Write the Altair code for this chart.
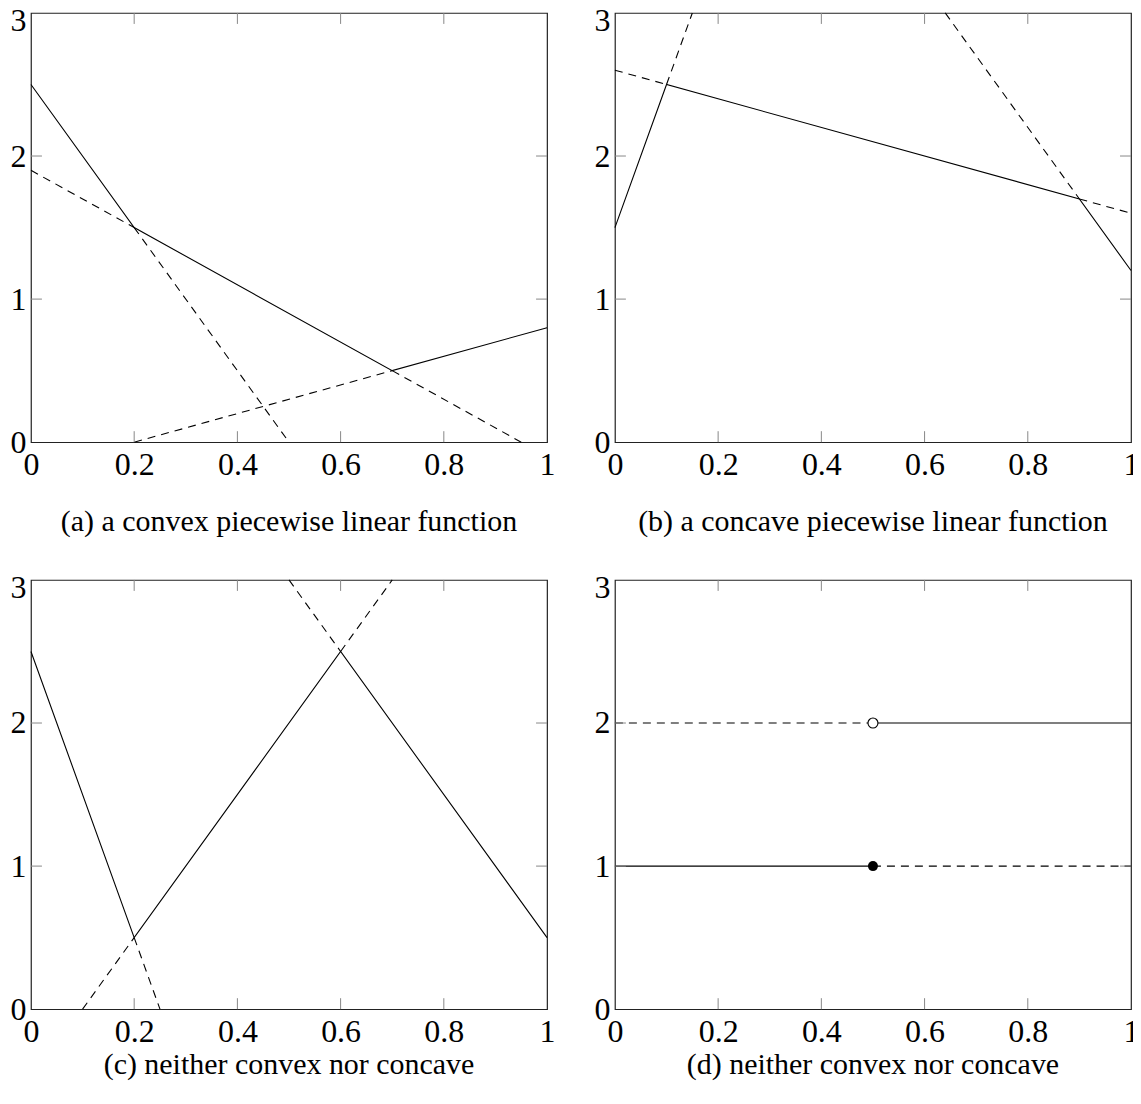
import altair as alt
import pandas as pd

# ---------------- data ----------------
x_tick_values = [0, 0.2, 0.4, 0.6, 0.8, 1]
y_tick_values = [0, 1, 2, 3]
inner_x_ticks = [0.2, 0.4, 0.6, 0.8]
inner_y_ticks = [1, 2]

captions = [
    "(a) a convex piecewise linear function",
    "(b) a concave piecewise linear function",
    "(c) neither convex nor concave",
    "(d) neither convex nor concave",
]

# (a) convex
a_solid_x = [0, 0.2, 0.7, 1]
a_solid_y = [2.5, 1.5, 0.5, 0.8]
a_dash_x1 = [0.0, 0.2, 0.2, 0.7]
a_dash_y1 = [1.9, 1.5, 0.0, 0.5]
a_dash_x2 = [0.2, 0.5, 0.7, 0.95]
a_dash_y2 = [1.5, 0.0, 0.5, 0.0]

# (b) concave
b_solid_x = [0, 0.1, 0.9, 1]
b_solid_y = [1.5, 2.5, 1.7, 1.2]
b_dash_x1 = [0.1, 0.0, 0.9, 0.64]
b_dash_y1 = [2.5, 2.6, 1.7, 3.0]
b_dash_x2 = [0.15, 0.1, 1.0, 0.9]
b_dash_y2 = [3.0, 2.5, 1.6, 1.7]

# (c) neither
c_solid_x = [0, 0.2, 0.6, 1]
c_solid_y = [2.5, 0.5, 2.5, 0.5]
c_dash_x1 = [0.2, 0.1, 0.6, 0.5]
c_dash_y1 = [0.5, 0.0, 2.5, 3.0]
c_dash_x2 = [0.25, 0.2, 0.7, 0.6]
c_dash_y2 = [0.0, 0.5, 3.0, 2.5]

# (d) neither (step functions)
d_solid_x1 = [0.0, 0.5]
d_solid_y1 = [1, 2]
d_solid_x2 = [0.5, 1.0]
d_solid_y2 = [1, 2]
d_dash_x1 = [0.0, 0.5]
d_dash_y1 = [2, 1]
d_dash_x2 = [0.5, 1.0]
d_dash_y2 = [2, 1]
d_closed_x = [0.5]
d_closed_y = [1]
d_open_x = [0.5]
d_open_y = [2]

# ---------------- styling ----------------
FONT = "Liberation Serif"
FS = 32
CAP_FS = 30
W, H = 517, 430
TICK = 11
DASH = [8, 6]

xs = alt.Scale(domain=[0, 1], nice=False, zero=False)
ys = alt.Scale(domain=[0, 3], nice=False, zero=False)

x_axis = alt.Axis(values=x_tick_values, format="~g", tickSize=0, domain=False,
                  grid=False, labelPadding=7, title=None, labelFlush=False,
                  labelFont=FONT, labelFontSize=FS, labelColor="black")
y_axis = alt.Axis(values=y_tick_values, format="~g", tickSize=0, domain=False,
                  grid=False, labelPadding=5, title=None, labelFlush=False,
                  labelFont=FONT, labelFontSize=FS, labelColor="black",
                  labelOffset={"condition": {"test": "datum.value == 3", "value": 8},
                               "value": 0})


def X(f):
    return alt.X(f, scale=xs, axis=x_axis)


def Y(f):
    return alt.Y(f, scale=ys, axis=y_axis)


def seg_df(x1, y1, x2, y2):
    return pd.DataFrame({"x": x1, "y": y1, "x2": x2, "y2": y2})


def tick_layers():
    tx = pd.DataFrame({"t": inner_x_ticks})
    ty = pd.DataFrame({"t": inner_y_ticks})
    rule = alt.Chart(tx).mark_rule(color="#888", strokeWidth=1)
    bottom = rule.encode(x=X("t:Q"), y=alt.value(H), y2=alt.value(H - TICK))
    top = rule.encode(x=X("t:Q"), y=alt.value(0), y2=alt.value(TICK))
    rule_y = alt.Chart(ty).mark_rule(color="#888", strokeWidth=1)
    left = rule_y.encode(y=Y("t:Q"), x=alt.value(0), x2=alt.value(TICK))
    right = rule_y.encode(y=Y("t:Q"), x=alt.value(W), x2=alt.value(W - TICK))
    return [bottom, top, left, right]


def seg_layer(df, dashed):
    kw = dict(color="black", strokeWidth=1.1)
    if dashed:
        kw["strokeDash"] = DASH
    return alt.Chart(df).mark_rule(**kw).encode(
        x=X("x:Q"), y=Y("y:Q"), x2="x2:Q", y2="y2:Q",
    )


def line_layer(xv, yv):
    df = pd.DataFrame({"x": xv, "y": yv, "o": list(range(len(xv)))})
    return alt.Chart(df).mark_line(color="black", strokeWidth=1.1).encode(
        x=X("x:Q"), y=Y("y:Q"), order="o:Q",
    )


def panel(layers, caption, offset):
    return alt.layer(*layers, *tick_layers()).properties(
        width=W, height=H,
        title=alt.TitleParams(text=caption, orient="bottom", offset=offset,
                              font=FONT, fontSize=CAP_FS, fontWeight="normal",
                              anchor="middle", color="black"),
    )


pa = panel([line_layer(a_solid_x, a_solid_y),
            seg_layer(seg_df(a_dash_x1, a_dash_y1, a_dash_x2, a_dash_y2), True)],
           captions[0], 27)
pb = panel([line_layer(b_solid_x, b_solid_y),
            seg_layer(seg_df(b_dash_x1, b_dash_y1, b_dash_x2, b_dash_y2), True)],
           captions[1], 27)
pc = panel([line_layer(c_solid_x, c_solid_y),
            seg_layer(seg_df(c_dash_x1, c_dash_y1, c_dash_x2, c_dash_y2), True)],
           captions[2], 3)

closed_pt = alt.Chart(pd.DataFrame({"x": d_closed_x, "y": d_closed_y})).mark_point(
    shape="circle", filled=True, color="black", size=100, opacity=1).encode(
    x=X("x:Q"), y=Y("y:Q"))
open_pt = alt.Chart(pd.DataFrame({"x": d_open_x, "y": d_open_y})).mark_point(
    shape="circle", filled=True, fill="white", stroke="black", strokeWidth=1.1,
    size=100, opacity=1).encode(
    x=X("x:Q"), y=Y("y:Q"))

pd_ = panel([seg_layer(seg_df(d_solid_x1, d_solid_y1, d_solid_x2, d_solid_y2), False),
             seg_layer(seg_df(d_dash_x1, d_dash_y1, d_dash_x2, d_dash_y2), True),
             closed_pt, open_pt], captions[3], 3)

chart = alt.concat(pa, pb, pc, pd_, columns=2,
                   spacing={"row": 138, "column": 68}, bounds="flush").properties(
    padding={"left": 1, "top": -5, "right": -7, "bottom": 0},
    background="white",
).configure_view(stroke="#222", strokeWidth=1.2)

chart.save("out.html", embed_options={"renderer": "svg", "actions": False})
